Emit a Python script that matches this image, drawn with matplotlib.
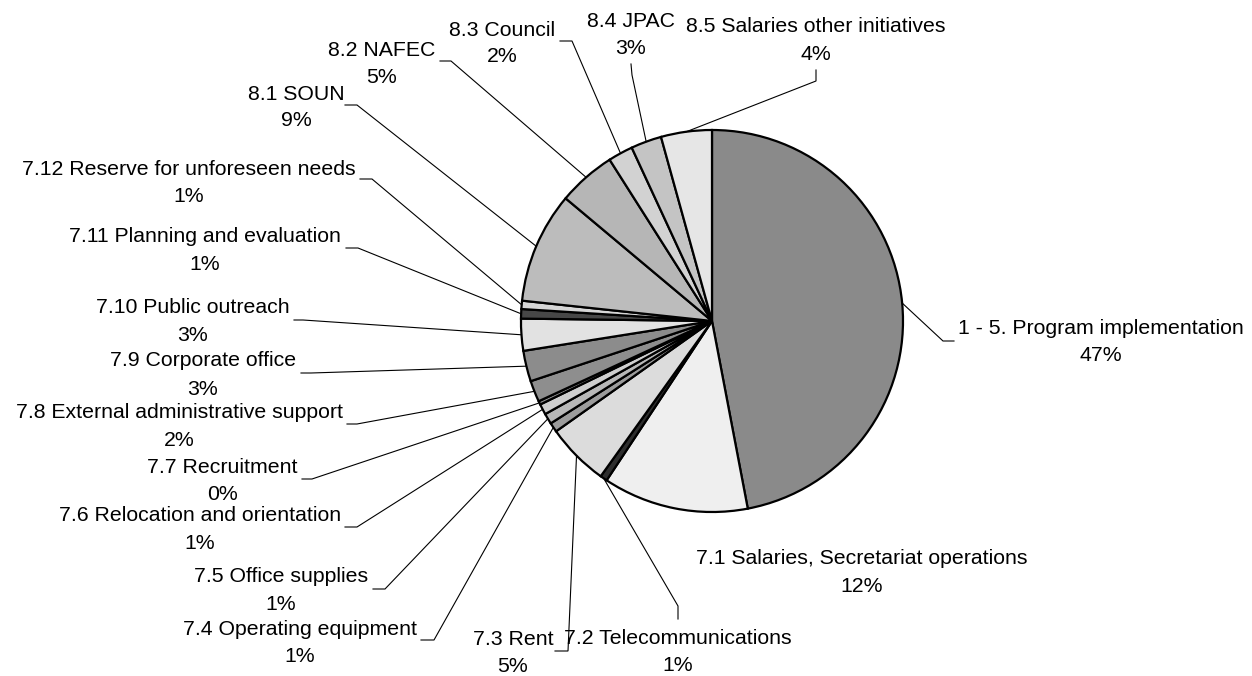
import numpy as np
import matplotlib
matplotlib.use('Agg')
import matplotlib.pyplot as plt

plt.rcParams['font.family'] = ['Liberation Sans', 'DejaVu Sans']

# budget lines, clockwise from 12 o'clock
names = [
    "1 - 5. Program implementation",
    "7.1 Salaries, Secretariat operations",
    "7.2 Telecommunications",
    "7.3 Rent",
    "7.4 Operating equipment",
    "7.5 Office supplies",
    "7.6 Relocation and orientation",
    "7.7 Recruitment",
    "7.8 External administrative support",
    "7.9 Corporate office",
    "7.10 Public outreach",
    "7.11 Planning and evaluation",
    "7.12 Reserve for unforeseen needs",
    "8.1 SOUN",
    "8.2 NAFEC",
    "8.3 Council",
    "8.4 JPAC",
    "8.5 Salaries other initiatives",
]
shares = [47.0, 12.3, 0.6, 5.3, 0.8, 0.9, 0.9, 0.3, 1.8, 2.6,
          2.7, 0.8, 0.7, 9.4, 4.9, 2.1, 2.6, 4.3]

fills = ["#8a8a8a", "#efefef", "#2e2e2e", "#dcdcdc", "#9c9c9c", "#b8b8b8",
         "#cfcfcf", "#909090", "#8e8e8e", "#8c8c8c", "#e2e2e2", "#474747",
         "#d6d6d6", "#bcbcbc", "#b6b6b6", "#d2d2d2", "#c4c4c4", "#e6e6e6"]

# label layout in pixels (x centre, y of first line, y of second line)
W, H = 1252, 676
lab_x = [1101, 862, 678, 513, 300, 281, 200, 222, 179, 203,
         193, 205, 189, 296, 382, 502, 631, 816]
lab_y1 = [326, 556, 636, 637, 627, 574, 513, 465, 410, 358,
          305, 234, 167, 92, 48, 28, 19, 24]
lab_y2 = [353, 584, 663, 664, 654, 602, 541, 492, 438, 387,
          333, 262, 194, 118, 75, 54, 46, 52]
# leader: start point and elbow (pixels), None = no leader
leaders = [
    ((954, 341), (943, 341)),
    None,
    ((678, 619), (678, 606)),
    ((555, 651), (568, 651)),
    ((421, 640), (434, 640)),
    ((373, 589), (385, 589)),
    ((345, 527), (357, 527)),
    ((302, 479), (312, 479)),
    ((347, 424), (357, 424)),
    ((301, 373), (311, 373)),
    ((294, 320), (303, 320)),
    ((346, 248), (358, 248)),
    ((360, 179), (372, 179)),
    ((345, 105), (357, 105)),
    ((440, 61), (451, 61)),
    ((560, 41), (572, 41)),
    ((631, 64), (632, 75)),
    ((816, 70), (816, 81)),
]

cx, cy, rad = 712, 321, 191

fig = plt.figure(figsize=(W / 100, H / 100), dpi=100)
ax = fig.add_axes([0, 0, 1, 1])

wedges, _ = ax.pie(shares, startangle=90, counterclock=False,
                   center=(cx, H - cy), radius=rad, colors=fills,
                   wedgeprops=dict(edgecolor="black", linewidth=1.6))
ax.set_xlim(0, W)
ax.set_ylim(0, H)
ax.set_aspect("auto")
ax.set_axis_off()

total = sum(shares)
fs = 15.3
half_cap = 7.6
for i, (name, v) in enumerate(zip(names, shares)):
    pct = f"{round(v / total * 100):.0f}%"
    ax.text(lab_x[i], H - (lab_y1[i] + half_cap), name, ha="center", va="baseline",
            fontsize=fs, color="black")
    ax.text(lab_x[i], H - (lab_y2[i] + half_cap), pct, ha="center", va="baseline",
            fontsize=fs, color="black")
    if leaders[i] is None:
        continue
    w = wedges[i]
    mid = np.deg2rad((w.theta1 + w.theta2) / 2)
    ex, ey = cx + rad * np.cos(mid), (H - cy) + rad * np.sin(mid)
    (sx, sy), (bx, by) = leaders[i]
    ax.plot([sx, bx, ex], [H - sy, H - by, ey], color="black", linewidth=0.8,
            solid_joinstyle="miter", zorder=1)

fig.savefig("out.png", dpi=100)
plt.close(fig)
